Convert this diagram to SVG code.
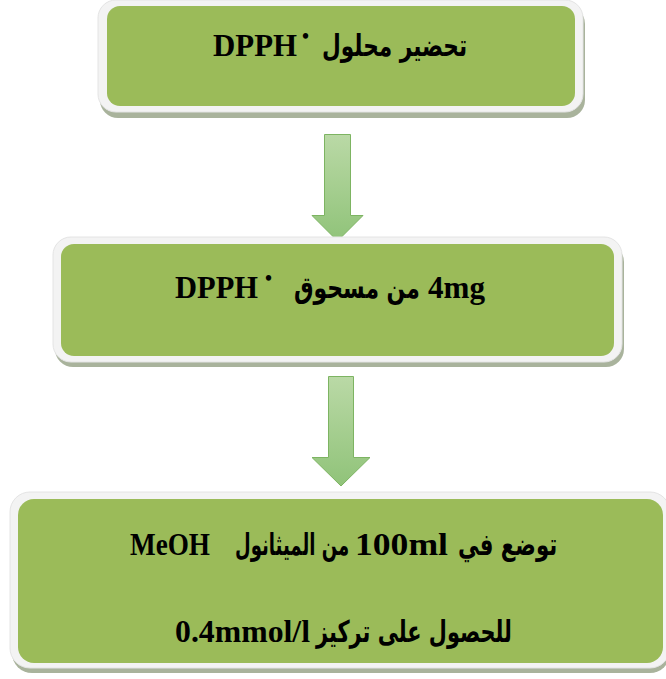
<svg xmlns="http://www.w3.org/2000/svg" width="666" height="679" viewBox="0 0 666 679">
<style>
.shadow{fill:#a9b39c}
.frame{fill:#f3f3f3;stroke:#e4e4e4;stroke-width:1}
.box{fill:#9bbb59}
.t{font-family:"Liberation Serif","DejaVu Serif",serif;font-weight:bold;font-size:31px;fill:#000}
.ar{font-family:"DejaVu Sans",sans-serif;font-weight:bold;font-size:30px;fill:#000}
.dot{font-family:"Liberation Serif",serif;font-weight:bold;font-size:20px;fill:#000}
.arrow{fill:url(#ag);stroke:#7db462;stroke-width:1}
</style>
<defs>
<linearGradient id="ag" x1="0" y1="0" x2="0" y2="1">
<stop offset="0" stop-color="#bad9a6"/>
<stop offset="1" stop-color="#90c379"/>
</linearGradient>
</defs>
<g id="connectors">
<path class="arrow" d="M324.5,134.5 H350.5 V215.5 H363 L337.5,241 L312,215.5 H324.5 Z"/>
<path class="arrow" d="M328.5,376.5 H353.5 V457.5 H370 L341,486 L312,457.5 H328.5 Z"/>
</g>
<g id="node1">
<rect class="shadow" x="100" y="6" width="485" height="112" rx="18"/>
<rect class="frame" x="98" y="0" width="485" height="112" rx="18"/>
<rect class="box" x="107" y="6" width="468" height="100" rx="13"/>
<text class="t" x="213" y="56" textLength="84" lengthAdjust="spacingAndGlyphs">DPPH</text>
<text class="dot" x="302" y="43">•</text>
<text class="ar" transform="translate(322,56) scale(0.62,1)" x="0" y="0" textLength="234" lengthAdjust="spacingAndGlyphs">تحضير محلول</text>
</g>
<g id="node2">
<rect class="shadow" x="55" y="244" width="569" height="123" rx="18"/>
<rect class="frame" x="53" y="237" width="569" height="125" rx="18"/>
<rect class="box" x="61" y="244" width="553" height="112" rx="13"/>
<text class="t" x="175" y="298" textLength="83" lengthAdjust="spacingAndGlyphs">DPPH</text>
<text class="dot" x="265" y="285">•</text>
<text class="ar" transform="translate(294,298) scale(0.62,1)" x="0" y="0" textLength="203" lengthAdjust="spacingAndGlyphs">من مسحوق</text>
<text class="t" x="428" y="298" textLength="57" lengthAdjust="spacingAndGlyphs">4mg</text>
</g>
<g id="node3">
<rect class="shadow" x="12" y="498" width="658" height="175" rx="20"/>
<rect class="frame" x="10" y="492" width="660" height="176" rx="20"/>
<rect class="box" x="18" y="499" width="645" height="164" rx="16"/>
<text class="t" x="130" y="555" textLength="80" lengthAdjust="spacingAndGlyphs">MeOH</text>
<text class="ar" transform="translate(235,555) scale(0.62,1)" x="0" y="0" textLength="184" lengthAdjust="spacingAndGlyphs">من الميثانول</text>
<text class="t" x="355" y="555" textLength="93" lengthAdjust="spacingAndGlyphs">100ml</text>
<text class="ar" transform="translate(458,555) scale(0.62,1)" x="0" y="0" textLength="160" lengthAdjust="spacingAndGlyphs">توضع في</text>
<text class="t" x="175" y="642" textLength="135" lengthAdjust="spacingAndGlyphs">0.4mmol/l</text>
<text class="ar" transform="translate(316,642) scale(0.62,1)" x="0" y="0" textLength="316" lengthAdjust="spacingAndGlyphs">للحصول على تركيز</text>
</g>
</svg>
